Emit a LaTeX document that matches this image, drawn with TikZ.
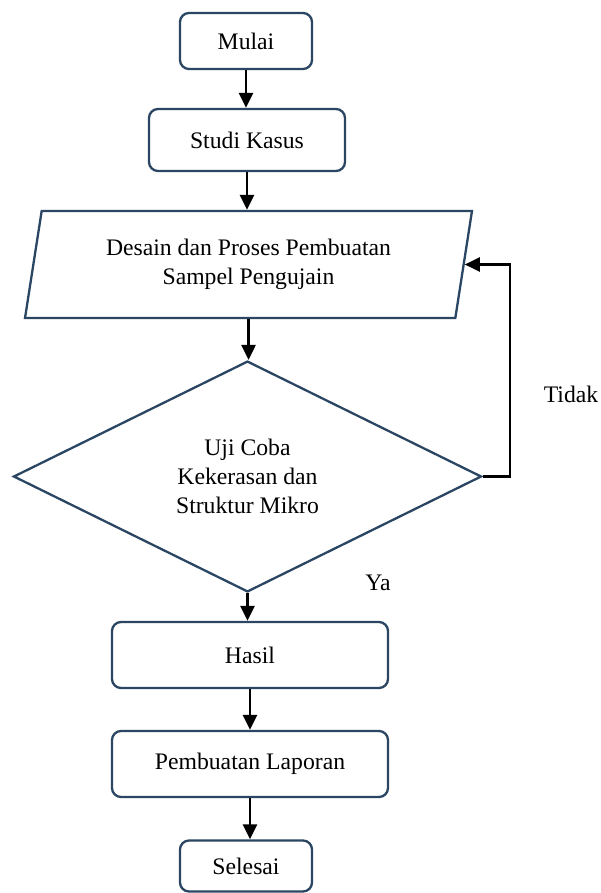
\documentclass[tikz,border=0pt]{standalone}
\usepackage{fontspec}
\setmainfont{Liberation Serif}
\usetikzlibrary{shapes.geometric, arrows.meta}

\definecolor{boxblue}{HTML}{2A4663}

\tikzset{
  box/.style={rectangle, rounded corners=9pt, draw=boxblue, line width=2.3pt, align=center},
  arr/.style={-{Triangle[width=14pt,length=15pt]}, line width=2.6pt},
}

\begin{document}
\begin{tikzpicture}[x=1pt, y=-1pt, font=\fontsize{23.7}{29}\selectfont]
  \useasboundingbox (0,0) rectangle (600,893);
  \begin{scope}[every node/.style={box}]
    \node (mulai) [minimum width=132pt, minimum height=56pt] at (246, 41) {Mulai};
    \node (studi) [minimum width=196pt, minimum height=62pt] at (247, 140) {Studi Kasus};
    \node (hasil) [minimum width=276pt, minimum height=66pt] at (250, 655) {Hasil};
    \node (lapor) [minimum width=276pt, minimum height=66pt] at (250, 764) {Pembuatan Laporan};
    \node (selesai) [minimum width=132pt, minimum height=51pt] at (246, 866) {Selesai};
  \end{scope}
  \node (desain) [trapezium, trapezium left angle=78.4, trapezium right angle=101.6,
    trapezium stretches=true, minimum width=449pt, minimum height=107pt,
    draw=boxblue, line width=2.3pt, align=center] at (248.5, 264.5)
    {Desain dan Proses Pembuatan\\Sampel Pengujain};
  \node (uji) [diamond, minimum width=468pt, minimum height=229pt,
    draw=boxblue, line width=2.3pt, align=center] at (247.5, 476.5)
    {Uji Coba\\Kekerasan dan\\Struktur Mikro};
  \node (tidak) at (571, 394) {Tidak};
  \node (ya) at (378, 583) {Ya};
  \coordinate (balik) at (510, 476.5);
  % alur utama
  \draw[arr] (mulai.south) -- (mulai.south |- studi.north);
  \draw[arr] (studi.south) -- (studi.south |- desain.north);
  \draw[arr] (desain.south) -- (desain.south |- uji.north);
  \draw[arr] (uji.south) -- (uji.south |- hasil.north);
  \draw[arr] (hasil.south) -- (hasil.south |- lapor.north);
  \draw[arr] (lapor.south) -- (lapor.south |- selesai.north);
  % kembali jika tidak
  \draw[arr] (uji.east) -- (balik) |- (desain.east);
\end{tikzpicture}
\end{document}
